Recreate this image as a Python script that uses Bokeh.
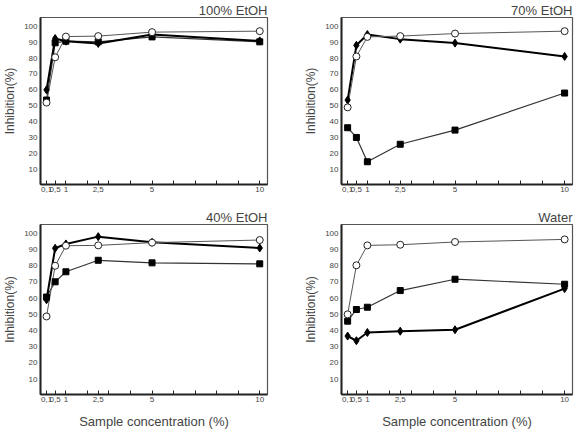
from bokeh.plotting import figure
from bokeh.layouts import gridplot
from bokeh.models import Range1d, FixedTicker
from bokeh.embed import file_html
from bokeh.resources import INLINE

# Sample concentrations (%) and inhibition (%) per extract
conc = [0.1, 0.5, 1, 2.5, 5, 10]
x_tick_values = [0.1, 0.5, 1, 2.5, 5, 10]
x_tick_labels = ["0,1", "0,5", "1", "2,5", "5", "10"]
x_minor_ticks = [2, 3, 4, 6, 7, 8, 9]
y_ticks = [10, 20, 30, 40, 50, 60, 70, 80, 90, 100]

titles = ["100% EtOH", "70% EtOH", "40% EtOH", "Water"]

circle_vals = [
    [52, 80.5, 93.5, 93.8, 96.3, 96.9],
    [49, 81, 93.3, 93.8, 95.4, 96.9],
    [48.7, 80, 92.4, 92.6, 94.3, 95.9],
    [50, 80.3, 92.6, 93, 94.7, 96.3],
]
diamond_vals = [
    [60, 92.3, 90.6, 89.2, 94.8, 90.8],
    [53.6, 88, 94.8, 91.9, 89.4, 81],
    [59, 90.8, 93.5, 98, 94.5, 91],
    [36.6, 33.7, 38.8, 39.6, 40.5, 65.9],
]
square_vals = [
    [53.6, 89.6, 90.6, 90.2, 93.3, 90.2],
    [36.2, 30.1, 14.8, 25.8, 34.7, 58],
    [60.7, 70.1, 76.3, 83.4, 81.8, 81.2],
    [45.8, 53, 54.4, 64.7, 71.7, 68.6],
]

FONT = "Liberation Sans"
X0, X1 = -0.18, 10.36
Y0, Y1 = 0.5, 105.5

# panel geometry: (width, height, left, right, top, bottom borders)
geom = [
    (288, 200, 36, 21, 16, 16),
    (289, 200, 53, 5, 15, 15),
    (288, 232, 36, 21, 24, 38),
    (289, 232, 53, 5, 24, 38),
]


def make_panel(i):
    w, h, bl, br, bt, bb = geom[i]
    bottom_row = i >= 2
    p = figure(width=w, height=h, output_backend="svg", toolbar_location=None,
               x_range=Range1d(X0, X1), y_range=Range1d(Y0, Y1),
               min_border_left=bl, min_border_right=br,
               min_border_top=bt, min_border_bottom=bb,
               title=titles[i])
    p.title.align = "right"
    p.title.text_font = FONT
    p.title.text_font_size = "13px"
    p.title.text_font_style = "normal"
    p.title.standoff = 0
    p.title.offset = 0
    p.background_fill_color = "white"
    p.border_fill_color = "white"
    p.grid.visible = False
    p.outline_line_color = "#555555"
    p.outline_line_width = 1.2

    xa = p.xaxis[0]
    xa.ticker = FixedTicker(ticks=x_tick_values, minor_ticks=x_minor_ticks)
    xa.major_label_overrides = dict(zip(x_tick_values, x_tick_labels))
    xa.major_tick_in = 4
    xa.major_tick_out = 0
    xa.minor_tick_in = 4
    xa.minor_tick_out = 0
    xa.major_tick_line_color = "#222222"
    xa.minor_tick_line_color = "#222222"
    xa.axis_line_width = 2
    xa.axis_line_color = "#222222"
    xa.major_label_text_font = FONT
    xa.major_label_text_font_size = "8px"
    xa.major_label_standoff = 2
    if bottom_row:
        xa.axis_label = "Sample concentration (%)"
        xa.axis_label_text_font = FONT
        xa.axis_label_text_font_size = "13px"
        xa.axis_label_text_font_style = "normal"
        xa.axis_label_standoff = 9

    ya = p.yaxis[0]
    ya.ticker = FixedTicker(ticks=y_ticks)
    ya.major_tick_in = 0
    ya.major_tick_out = 0
    ya.minor_tick_in = 0
    ya.minor_tick_out = 0
    ya.axis_line_width = 2
    ya.axis_line_color = "#222222"
    ya.major_label_text_font = FONT
    ya.major_label_text_font_size = "8px"
    ya.major_label_standoff = 3
    ya.axis_label = "Inhibition(%)"
    ya.axis_label_text_font = FONT
    ya.axis_label_text_font_size = "12px"
    ya.axis_label_text_font_style = "normal"
    ya.axis_label_standoff = 4

    # connecting lines
    p.line(conc, square_vals[i], line_color="#333333", line_width=1.2)
    p.line(conc, diamond_vals[i], line_color="black", line_width=2)
    p.line(conc, circle_vals[i], line_color="#555555", line_width=1)
    # markers
    p.scatter(conc, square_vals[i], marker="square", size=6,
              fill_color="black", line_color="black")
    p.scatter(conc, diamond_vals[i], marker="diamond", size=8,
              fill_color="black", line_color="black")
    p.scatter(conc, circle_vals[i], marker="circle", size=7,
              fill_color="white", line_color="#222222", line_width=1)
    return p


panels = [make_panel(i) for i in range(4)]
grid = gridplot([[panels[0], panels[1]], [panels[2], panels[3]]],
                toolbar_location=None)

open("out.html", "w").write(file_html(grid, INLINE))
